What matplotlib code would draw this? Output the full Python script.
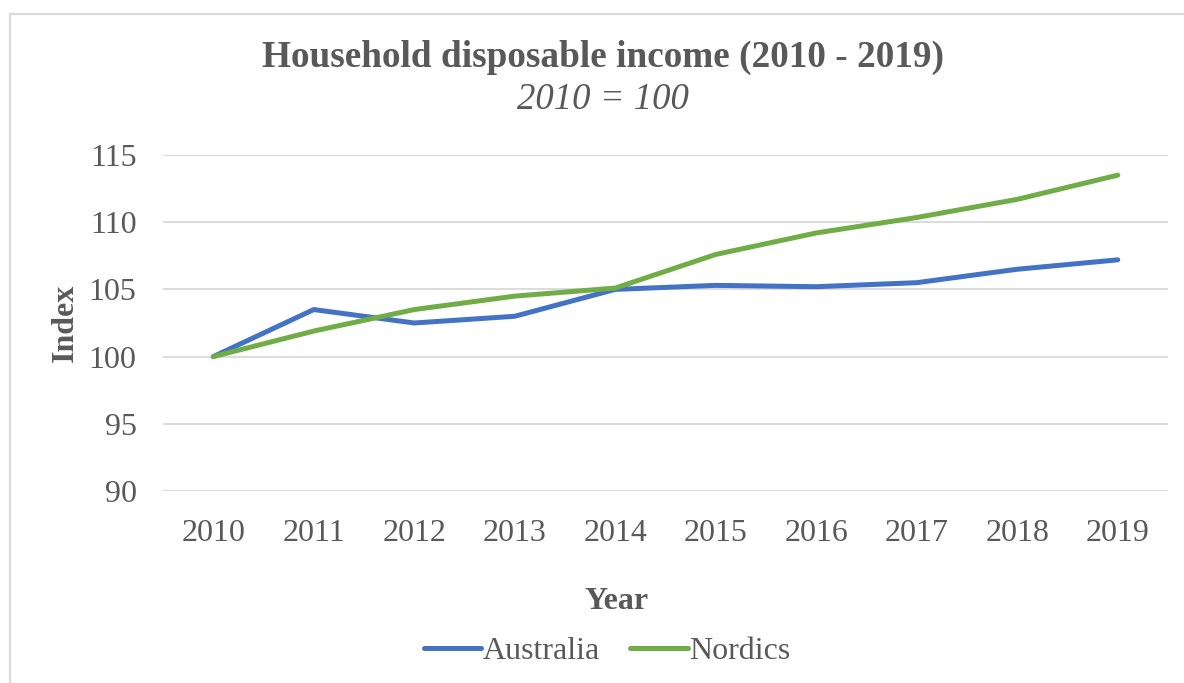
import matplotlib.pyplot as plt
from matplotlib.patches import Rectangle

# Household disposable income index, 2010 = 100
years = ['2010', '2011', '2012', '2013', '2014', '2015', '2016', '2017', '2018', '2019']
australia = [100.0, 103.5, 102.5, 103.0, 105.0, 105.3, 105.2, 105.5, 106.5, 107.2]
nordics = [100.0, 101.9, 103.5, 104.5, 105.1, 107.6, 109.2, 110.35, 111.7, 113.5]
y_ticks = [90, 95, 100, 105, 110, 115]

TEXT = '#595959'
GRID = '#D9D9D9'
plt.rcParams['font.family'] = ['Liberation Serif', 'DejaVu Serif']

fig = plt.figure(figsize=(11.84, 6.83), dpi=100)
ax = fig.add_axes([163 / 1184, 1 - 491 / 683, 1005 / 1184, 336 / 683])

x = range(len(years))
ax.plot(x, australia, color='#4472C4', lw=3.6, label='Australia', solid_capstyle='round')
ax.plot(x, nordics, color='#70AD47', lw=3.6, label='Nordics', solid_capstyle='round')

ax.set_xlim(-0.5, len(years) - 0.5)
ax.set_ylim(90, 115)
ax.set_yticks(y_ticks)
ax.set_xticks(list(x))
ax.set_xticklabels(years)
ax.grid(axis='y', color=GRID, lw=1.3)
ax.set_axisbelow(True)
for s in ax.spines.values():
    s.set_visible(False)
ax.tick_params(length=0, labelsize=23, labelcolor=TEXT)
ax.tick_params(axis='y', pad=19)
ax.tick_params(axis='x', pad=20)

ax.set_ylabel('Index', fontsize=23, fontweight='bold', color=TEXT, labelpad=6.5)
ax.set_xlabel('Year', fontsize=23, fontweight='bold', color=TEXT, labelpad=28)
ax.xaxis.label.set_x((617 - 163) / 1005)

fig.text(603 / 1184, 1 - 57 / 683, 'Household disposable income (2010 - 2019)',
         ha='center', va='center', fontsize=26.8, fontweight='bold', color=TEXT)
fig.text(603 / 1184, 1 - 100 / 683, '2010 = 100', ha='center', va='center',
         fontsize=26.5, style='italic', color=TEXT)

fig.legend(loc='center', bbox_to_anchor=(607 / 1184, 1 - 651 / 683), ncol=2,
           frameon=False, fontsize=23, labelcolor=TEXT, handlelength=1.8,
           handletextpad=0.04, columnspacing=0.95)

# chart area border
fig.patches.append(Rectangle((10 / 1184, -0.1), 1.2, 1 - 14 / 683 + 0.1,
                             transform=fig.transFigure, fill=False,
                             edgecolor=GRID, lw=1.6))

fig.savefig('out.png', dpi=100)
